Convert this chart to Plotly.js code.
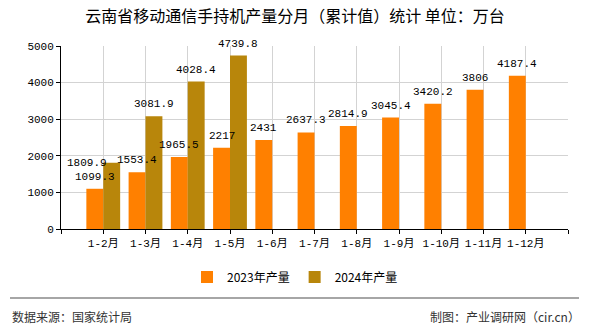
<!DOCTYPE html>
<html>
<head>
<meta charset="utf-8">
<script src="https://cdn.plot.ly/plotly-3.0.1.min.js"></script>
<style>html,body{margin:0;padding:0;background:#fff;}#chart{width:590px;height:330px;}</style>
</head>
<body>
<div id="chart"></div>
<script>
const categories = ["1-2月","1-3月","1-4月","1-5月","1-6月","1-7月","1-8月","1-9月","1-10月","1-11月","1-12月"];
const values2023 = [1099.3,1553.4,1965.5,2217,2431,2637.3,2814.9,3045.4,3420.2,3806,4187.4];
const values2024 = [1809.9,3081.9,4028.4,4739.8];
const labels2023 = ["1099.3","1553.4","1965.5","2217","2431","2637.3","2814.9","3045.4","3420.2","3806","4187.4"];
const labels2024 = ["1809.9","3081.9","4028.4","4739.8"];
const yTicks = [0,1000,2000,3000,4000,5000];

const FONT = "SimSun, 'Liberation Mono', 'Noto Sans CJK SC', monospace";
const idx = categories.map((c,i)=>i);

const traces = [
  {type:'bar', name:'2023年产量', x: idx, y: values2023, marker:{color:'#FF8000'}, hoverinfo:'none'},
  {type:'bar', name:'2024年产量', x: idx.slice(0, values2024.length), y: values2024, marker:{color:'#B8860B'}, hoverinfo:'none'}
];

const annotations = [];
values2023.forEach((v,i)=>{
  annotations.push({x:i-0.2, y:v, xref:'x', yref:'y', text:labels2023[i], showarrow:false,
    yanchor:'middle', yshift:12, font:{family:FONT, size:11, color:'#000'}});
});
values2024.forEach((v,i)=>{
  const special = (i===0);
  annotations.push({x:i+0.2, y:v, xref:'x', yref:'y', text:labels2024[i], showarrow:false,
    yanchor:'middle', yshift: special ? 0 : 12, xshift: special ? -25 : 0,
    font:{family:FONT, size:11, color:'#000'}});
});
annotations.push({x:(10-61)/507, y:(229-316)/183, xref:'paper', yref:'paper', xanchor:'left', yanchor:'middle',
  text:'数据来源：国家统计局', showarrow:false, font:{family:"'Noto Sans CJK SC', sans-serif", size:12, color:'#333'}});
annotations.push({x:(582-61)/507, y:(229-316)/183, xref:'paper', yref:'paper', xanchor:'right', yanchor:'middle',
  text:'制图：产业调研网（cir.cn）', showarrow:false, font:{family:"'Noto Sans CJK SC', sans-serif", size:12, color:'#333'}});

const tickvals = [-1].concat(idx).concat([categories.length]);
const ticktext = [''].concat(categories).concat(['']);

const layout = {
  width:590, height:330,
  margin:{l:61, r:22, t:46, b:101, pad:0},
  paper_bgcolor:'#fff', plot_bgcolor:'#fff',
  title:{text:'云南省移动通信手持机产量分月（累计值）统计 单位：万台', x:0.5, xanchor:'center', y:1-16.5/330, yanchor:'middle',
    font:{family:"'Noto Sans CJK SC', sans-serif", size:16, color:'#000'}},
  barmode:'group', bargap:0.2, bargroupgap:0,
  showlegend:true,
  legend:{orientation:'h', x:(295-61)/507, xanchor:'center', y:(229-277)/183, yanchor:'middle',
    font:{family:"'Noto Sans CJK SC', sans-serif", size:12, color:'#000'}, itemwidth:30, tracegroupgap:0},
  xaxis:{type:'linear', range:[-1, categories.length], tickmode:'array', tickvals:tickvals, ticktext:ticktext,
    showgrid:true, gridcolor:'#d3d3d3', gridwidth:1, zeroline:false,
    showline:true, linecolor:'#000', linewidth:1, ticks:'outside', ticklen:4, tickcolor:'#000',
    tickfont:{family:FONT, size:11, color:'#000'}, fixedrange:true},
  yaxis:{range:[0,5000], tickmode:'array', tickvals:yTicks, ticktext:yTicks.map(String),
    showgrid:true, gridcolor:'#d3d3d3', gridwidth:1, zeroline:false,
    showline:true, linecolor:'#000', linewidth:1, ticks:'outside', ticklen:4, tickcolor:'#000',
    tickfont:{family:FONT, size:11, color:'#000'}, fixedrange:true},
  shapes:[
    {type:'line', xref:'paper', yref:'paper', x0:(10-61)/507, x1:(579-61)/507, y0:(229-298)/183, y1:(229-298)/183,
      line:{color:'#888', width:1.5}}
  ],
  annotations: annotations
};

Plotly.newPlot('chart', traces, layout, {displayModeBar:false, staticPlot:true});
</script>
</body>
</html>
